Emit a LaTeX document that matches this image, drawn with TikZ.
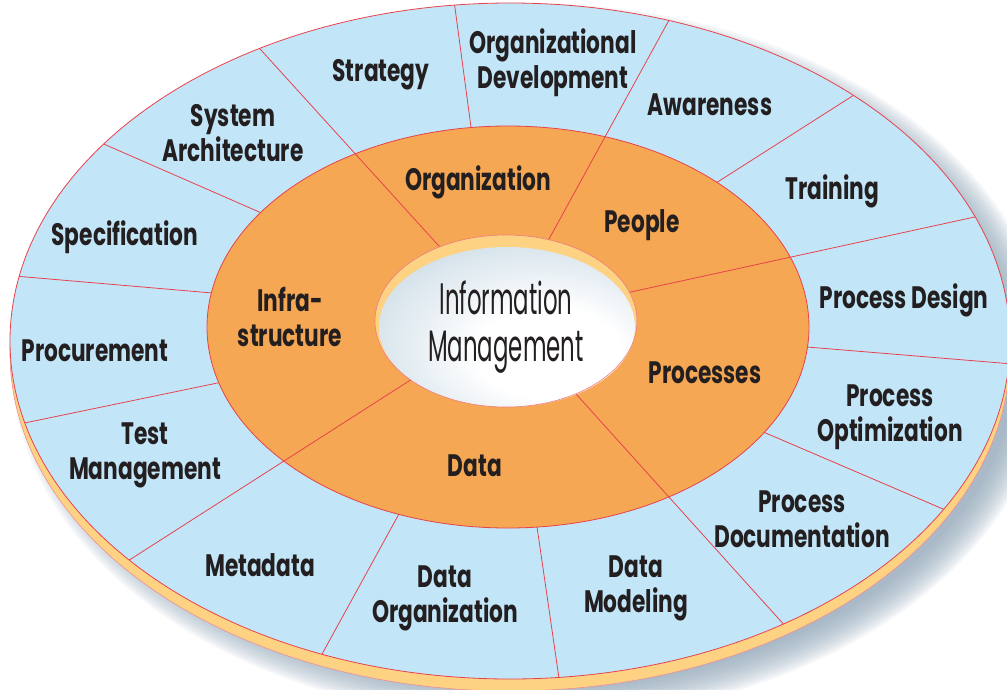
\documentclass[tikz,border=0pt]{standalone}
\usepackage{fontspec}
\setmainfont{Poppins}
\newfontfamily\ringfont[FakeStretch=0.70]{Poppins}
\newfontfamily\hubfont[FakeStretch=0.52]{Poppins}

\definecolor{ringblue}{HTML}{C2E6F8}
\definecolor{ringorange}{HTML}{F5A753}
\definecolor{rimyellow}{HTML}{FDD283}
\definecolor{divred}{HTML}{E8424C}
\definecolor{ink}{HTML}{231F20}
\definecolor{shadowblue}{HTML}{8FA5B8}
\definecolor{hubblue}{HTML}{B3CBDA}

\pgfdeclareradialshading{hubshade}{\pgfpoint{10bp}{-10bp}}{color(0bp)=(white); color(14bp)=(white); color(48bp)=(hubblue); color(70bp)=(hubblue)}

\begin{document}
\begin{tikzpicture}[x=1pt, y=-1pt,
    ringlabel/.style={font=\ringfont\bfseries\fontsize{31}{35}\selectfont, text=ink, align=center, inner sep=0pt},
    hublabel/.style={font=\hubfont\fontsize{44}{47}\selectfont, text=ink, align=center, inner sep=0pt},
    divider/.style={draw=divred, line width=0.8pt}]

        \useasboundingbox (0,0) rectangle (1007,689);
        \fill[white] (0,0) rectangle (1007,689);
        \clip (0,0) rectangle (1007,689);

        % Shadow
        \foreach \k in {0,...,13}
            \fill[shadowblue, opacity=0.09] (530,362) ellipse [x radius={486pt+2.5pt*\k}, y radius={326pt+2.5pt*\k}];

        % Outer ring and its rim
        \filldraw[fill=rimyellow, draw=divred!60, line width=0.6pt] (510,353) ellipse [x radius=500pt, y radius=338pt];
        \filldraw[fill=ringblue, draw=divred, line width=0.8pt] (510,341) ellipse [x radius=500pt, y radius=338pt];

        % Outer dividers
        \begin{scope}
            \clip (510,341) ellipse [x radius=500pt, y radius=338pt];
            \draw[divider] (453,-7) -- (473,142);
            \draw[divider] (90,138) -- (273,218);
            \draw[divider] (3,275) -- (224,294);
            \draw[divider] (10,426) -- (232,380);
            \draw[divider] (316,665) -- (405,503);
            \draw[divider] (561,692) -- (535,513);
            \draw[divider] (964,518) -- (754,428);
            \draw[divider] (1025,365) -- (795,346);
            \draw[divider] (865,88) -- (705,190);
        \end{scope}

        % Inner ring
        \filldraw[fill=ringorange, draw=divred, line width=0.8pt] (508,327) ellipse [x radius=301pt, y radius=201pt];

        % Long dividers
        \begin{scope}
            \clip (510,341) ellipse [x radius=500pt, y radius=338pt];
            \draw[divider] (251,39) -- (448,256);
            \draw[divider] (674,11) -- (543,250);
            \draw[divider] (993,213) -- (617,295);
            \draw[divider] (796,638) -- (567,384);
            \draw[divider] (120,566) -- (423,372);
        \end{scope}

        % Hub
        \fill[rimyellow] (506,321) ellipse [x radius=131pt, y radius=86pt];
        \shade[shading=hubshade] (507,327) ellipse [x radius=128pt, y radius=80pt];
        \draw[divred!70, line width=0.6pt] (506,321) ellipse [x radius=131pt, y radius=86pt];

        % Outer labels
        \node[ringlabel] (strategy) at (381,75) {Strategy};
        \node[ringlabel] (orgdev) at (553,63) {Organizational\\Development};
        \node[ringlabel] (awareness) at (710,105) {Awareness};
        \node[ringlabel] (training) at (832,191) {Training};
        \node[ringlabel] (procdesign) at (904,300) {Process Design};
        \node[ringlabel] (procopt) at (890,417) {Process\\Optimization};
        \node[ringlabel] (procdoc) at (802,519) {Process\\Documentation};
        \node[ringlabel] (datamodel) at (636,588) {Data\\Modeling};
        \node[ringlabel] (dataorg) at (445,598) {Data\\Organization};
        \node[ringlabel] (metadata) at (260,565) {Metadata};
        \node[ringlabel] (testmgmt) at (145,455) {Test\\Management};
        \node[ringlabel] (procurement) at (95,351) {Procurement};
        \node[ringlabel] (specification) at (125,237) {Specification};
        \node[ringlabel] (sysarch) at (233,133) {System\\Architecture};

        % Inner labels
        \node[ringlabel] (organization) at (478,182) {Organization};
        \node[ringlabel] (people) at (642,225) {People};
        \node[ringlabel] (processes) at (705,373) {Processes};
        \node[ringlabel] (data) at (475,466) {Data};
        \node[ringlabel] (infra) at (290,317) {Infra-\\structure};

        % Hub label
        \node[hublabel] (hub) at (506,327) {Information\\Management};
\end{tikzpicture}
\end{document}
